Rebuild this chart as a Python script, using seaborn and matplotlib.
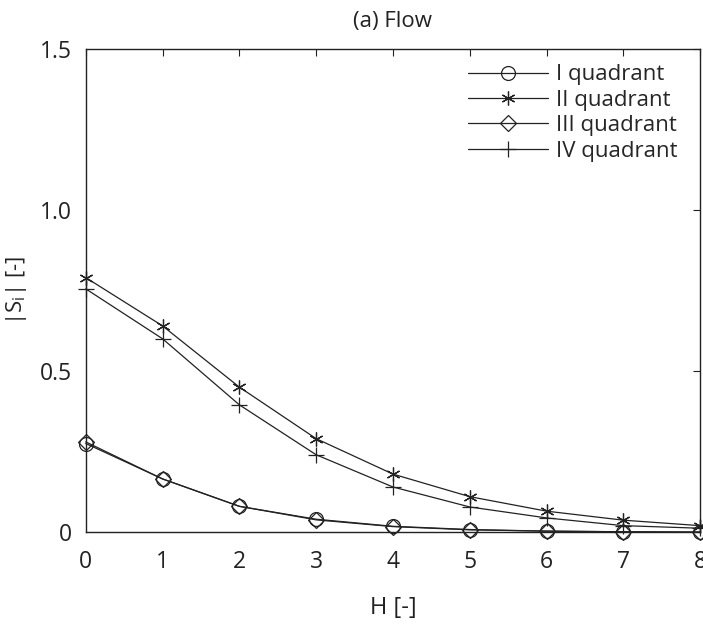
import numpy as np
import pandas as pd
import seaborn as sns
import matplotlib.pyplot as plt

H = [0, 1, 2, 3, 4, 5, 6, 7, 8]
quad_I = [0.275, 0.165, 0.080, 0.040, 0.018, 0.008, 0.003, 0.001, 0.000]
quad_II = [0.790, 0.640, 0.450, 0.290, 0.180, 0.110, 0.065, 0.037, 0.020]
quad_III = [0.280, 0.165, 0.080, 0.038, 0.017, 0.007, 0.003, 0.001, 0.000]
quad_IV = [0.755, 0.600, 0.395, 0.240, 0.140, 0.078, 0.044, 0.020, 0.012]

series_names = ["I quadrant", "II quadrant", "III quadrant", "IV quadrant"]
x_ticks = [0, 1, 2, 3, 4, 5, 6, 7, 8]
y_ticks = [0, 0.5, 1.0, 1.5]
y_ticklabels = ["0", "0.5", "1.0", "1.5"]

sns.set_style("white")
plt.rcParams['font.family'] = ['Open Sans', 'DejaVu Sans']
plt.rcParams['mathtext.fontset'] = 'custom'
plt.rcParams['mathtext.rm'] = 'Open Sans'
plt.rcParams['mathtext.it'] = 'Open Sans'

df = pd.DataFrame({"H": H * 4,
                   "S": quad_I + quad_II + quad_III + quad_IV,
                   "series": np.repeat(series_names, len(H))})

fig = plt.figure(figsize=(7.03, 6.26), dpi=100)
ax = fig.add_axes([0.122, 0.150, 0.874, 0.772])

marker_map = {"I quadrant": "o", "II quadrant": (6, 2, 0),
              "III quadrant": "D", "IV quadrant": "+"}
size_map = {"I quadrant": 10, "II quadrant": 10,
            "III quadrant": 8, "IV quadrant": 11}

for name in series_names:
    sub = df[df["series"] == name]
    sns.lineplot(data=sub, x="H", y="S", ax=ax, color="#222222", lw=0.9,
                 marker=marker_map[name], markersize=size_map[name],
                 markerfacecolor="none", markeredgecolor="#222222",
                 markeredgewidth=0.9, label=name, clip_on=False, zorder=3)

ax.set_xlim(0, 8)
ax.set_ylim(0, 1.5)
ax.set_xticks(x_ticks)
ax.set_yticks(y_ticks)
ax.set_yticklabels(y_ticklabels)
ax.tick_params(direction="in", length=5, width=0.8, labelsize=16.5,
               top=True, right=True, colors="#222222",
               labelcolor="#222222")
ax.tick_params(axis="x", pad=13)
ax.tick_params(axis="y", pad=10)
for sp in ax.spines.values():
    sp.set_color("#222222")
    sp.set_linewidth(1.0)

ax.set_title("(a) Flow", fontsize=16, color="#222222", pad=16)
ax.set_xlabel("H [-]", fontsize=17, color="#222222", labelpad=16)
ax.set_ylabel(r"|S$_\mathregular{i}$| [-]", fontsize=16, color="#222222", labelpad=8)

ax.legend(loc="upper right", bbox_to_anchor=(0.989, 1.0), frameon=False,
          fontsize=16, handlelength=3.6, handletextpad=0.35,
          labelspacing=0.2, borderaxespad=0.3)

fig.savefig("out.png", dpi=100)
